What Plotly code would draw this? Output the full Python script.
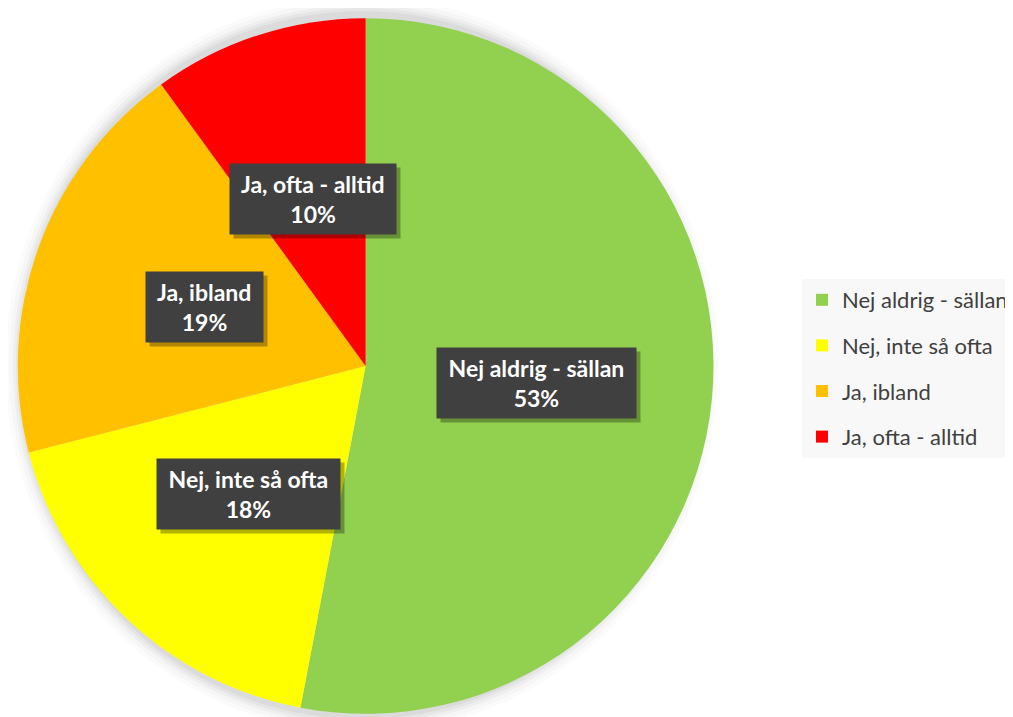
import math
import plotly.graph_objects as go

labels = ["Nej aldrig - sällan", "Nej, inte så ofta", "Ja, ibland", "Ja, ofta - alltid"]
values = [53, 18, 19, 10]
colors = ["#92D050", "#FFFF00", "#FFC000", "#FF0000"]

OFFX, OFFY = 0, 8  # observed page offset of the figure in the browser window
W, H = 1005, 717 - OFFY
ML, MR, MT, MB = 0, 0, 15 - OFFY, 0
DOM_X = [(10 - OFFX) / W, (722 - OFFX) / W]
DOM_Y = [0, 1]

pw = (DOM_X[1] - DOM_X[0]) * (W - ML - MR)
ph = (DOM_Y[1] - DOM_Y[0]) * (H - MT - MB)
R = min(pw, ph) / 2
cx = ML + (DOM_X[0] + DOM_X[1]) / 2 * (W - ML - MR)
cy = MT + (1 - (DOM_Y[0] + DOM_Y[1]) / 2) * (H - MT - MB)


def to_paper(px, py):
    return (px - ML) / (W - ML - MR), 1 - (py - MT) / (H - MT - MB)


fig = go.Figure()
fig.add_trace(go.Pie(
    labels=labels, values=values, sort=False, direction="clockwise", rotation=0,
    marker=dict(colors=colors, line=dict(width=0)),
    textinfo="none", hoverinfo="label+percent", showlegend=False,
    domain=dict(x=DOM_X, y=DOM_Y),
))

for lab, col in zip(labels, colors):
    fig.add_trace(go.Scatter(
        x=[None], y=[None], mode="markers", name=lab, legendgroup=lab,
        marker=dict(symbol="square", size=12, color=col),
        showlegend=True,
    ))

shapes = []
for dr, a in [(16, 0.015), (12, 0.02), (8, 0.03), (5, 0.035), (2, 0.045)]:
    x0, y0 = to_paper(cx - R - dr - 2, cy + R + dr)
    x1, y1 = to_paper(cx + R + dr - 6, cy - R - dr - 2)
    shapes.append(dict(type="circle", xref="paper", yref="paper", x0=x0, x1=x1,
                       y0=y0, y1=y1, fillcolor=f"rgba(0,0,0,{a})", line=dict(width=0), layer="below"))

NB = "\u00a0"
total = sum(values)
annotations = []
cum = 0
for lab, v in zip(labels, values):
    mid = (cum + v / 2) / total * 2 * math.pi
    cum += v
    px = cx + 0.5 * R * math.sin(mid)
    py = cy - 0.5 * R * math.cos(mid)
    ax, ay = to_paper(px, py)
    txt = f"<b>{NB}{lab}{NB}<br>{round(v / total * 100)}%</b>"
    common = dict(x=ax, y=ay, xref="paper", yref="paper", xanchor="center", yanchor="middle",
                  showarrow=False, text=txt, align="center", borderpad=6)
    annotations.append(dict(**common, font=dict(family="Lato", size=23, color="rgba(0,0,0,0)"),
                            bgcolor="rgba(0,0,0,0.3)", xshift=4, yshift=-4))
    annotations.append(dict(**common, font=dict(family="Lato", size=23, color="white"),
                            bgcolor="#404040"))

lx, ly = to_paper(813 - OFFX, 279 - OFFY)
fig.update_layout(
    width=W, height=H,
    margin=dict(l=ML, r=MR, t=MT, b=MB),
    paper_bgcolor="white", plot_bgcolor="white",
    xaxis=dict(visible=False), yaxis=dict(visible=False),
    shapes=shapes, annotations=annotations,
    legend=dict(x=lx, y=ly, xanchor="left", yanchor="top",
                bgcolor="#F8F8F8", font=dict(family="Lato", size=22, color="#404040"),
                tracegroupgap=14, itemsizing="constant"),
    hovermode=False,
)

fig.write_html("out.html")
